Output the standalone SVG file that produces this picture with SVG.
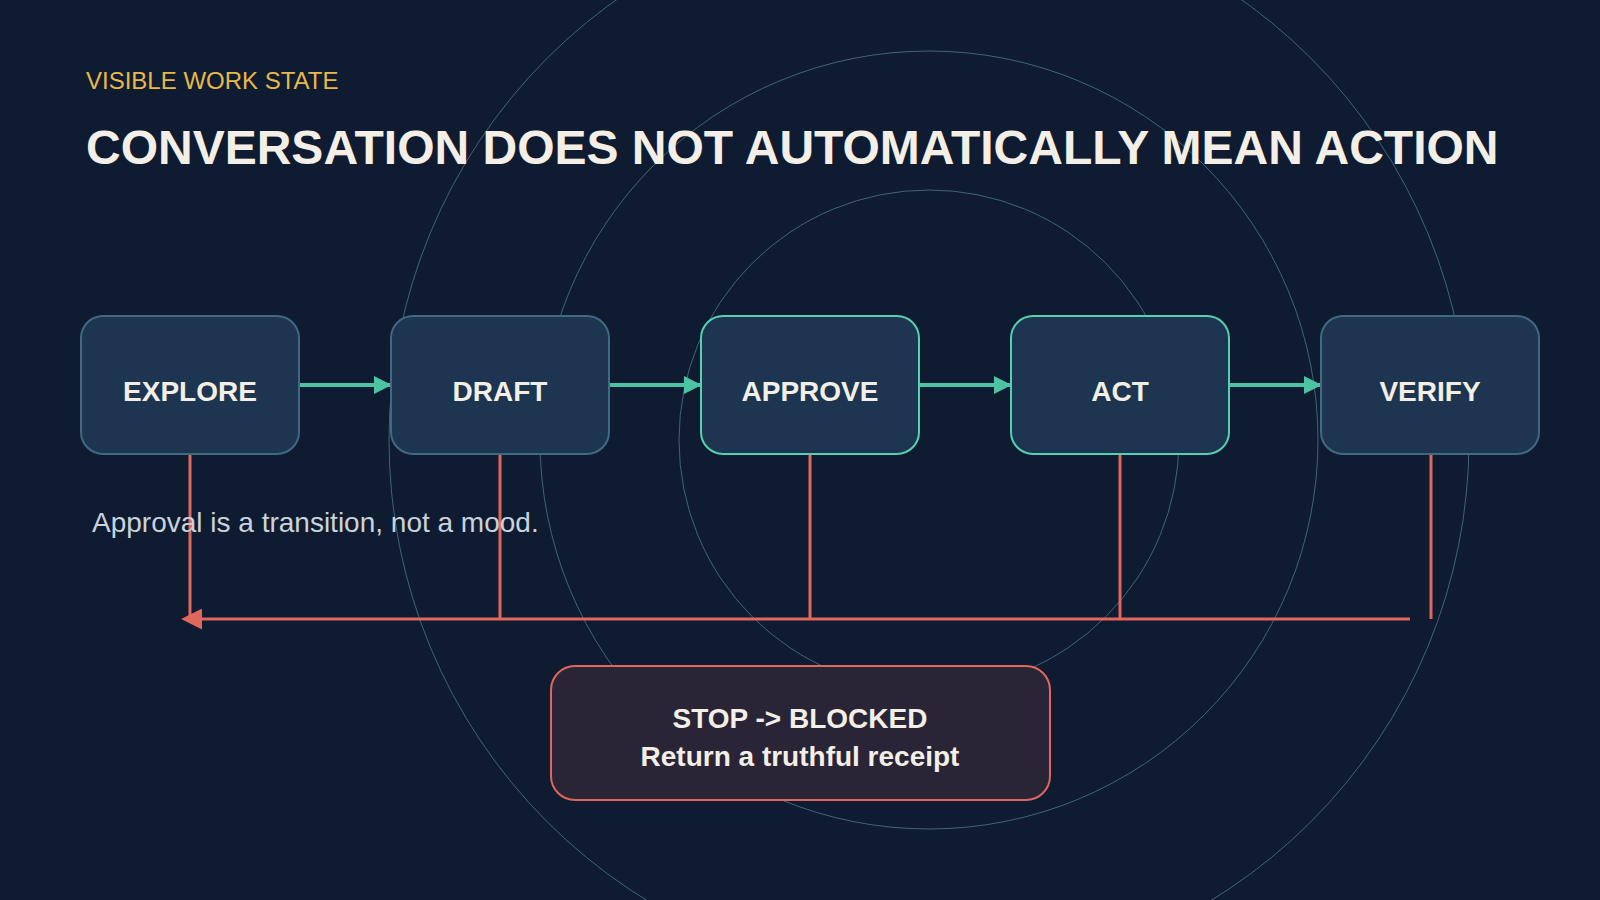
<svg xmlns="http://www.w3.org/2000/svg" width="1600" height="900" viewBox="0 0 1600 900">
<style>
.ring{fill:none;stroke:#3f6478;stroke-width:1}
.box{fill:#1d3550;stroke-width:2}
.muted{stroke:#3f6a80}
.hot{stroke:#55d0b0}
.lbl{font-family:"Liberation Sans",Arial,sans-serif;font-weight:bold;font-size:28px;fill:#f3efe6;text-anchor:middle}
.flow{stroke:#4cc3a2;stroke-width:4;fill:none;marker-end:url(#ta)}
.back{stroke:#e0675c;stroke-width:3;fill:none}
</style>
<defs>
<marker id="ta" viewBox="0 0 10 10" refX="9" refY="5" markerWidth="4.5" markerHeight="4.5" orient="auto" markerUnits="strokeWidth"><path d="M0,0L10,5L0,10z" fill="#4cc3a2"/></marker>
<marker id="ra" viewBox="0 0 10 10" refX="1" refY="5" markerWidth="7" markerHeight="7" orient="auto-start-reverse" markerUnits="strokeWidth"><path d="M0,0L10,5L0,10z" fill="#e0675c"/></marker>
</defs>
<rect width="1600" height="900" fill="#0f1b31"/>
<g id="rings">
<circle class="ring" cx="929" cy="440" r="250"/>
<circle class="ring" cx="929" cy="440" r="389"/>
<circle class="ring" cx="929" cy="440" r="540"/>
</g>
<text x="86" y="89" font-family="Liberation Sans,Arial,sans-serif" font-size="24" fill="#e8b84a">VISIBLE WORK STATE</text>
<text x="86" y="164" font-family="Liberation Sans,Arial,sans-serif" font-weight="bold" font-size="48" fill="#f3efe6">CONVERSATION DOES NOT AUTOMATICALLY MEAN ACTION</text>
<g id="connectors">
<path class="flow" d="M299,385H390"/>
<path class="flow" d="M609,385H700"/>
<path class="flow" d="M919,385H1010"/>
<path class="flow" d="M1229,385H1320"/>
<path class="back" d="M190,454V619"/>
<path class="back" d="M500,454V619"/>
<path class="back" d="M810,454V619"/>
<path class="back" d="M1120,454V619"/>
<path class="back" d="M1431,454V619"/>
<path class="back" d="M1410,619H200" marker-end="url(#ra)"/>
</g>
<g id="explore"><rect class="box muted" x="81" y="316" width="218" height="138" rx="22"/><text class="lbl" x="190" y="401">EXPLORE</text></g>
<g id="draft"><rect class="box muted" x="391" y="316" width="218" height="138" rx="22"/><text class="lbl" x="500" y="401">DRAFT</text></g>
<g id="approve"><rect class="box hot" x="701" y="316" width="218" height="138" rx="22"/><text class="lbl" x="810" y="401">APPROVE</text></g>
<g id="act"><rect class="box hot" x="1011" y="316" width="218" height="138" rx="22"/><text class="lbl" x="1120" y="401">ACT</text></g>
<g id="verify"><rect class="box muted" x="1321" y="316" width="218" height="138" rx="22"/><text class="lbl" x="1430" y="401">VERIFY</text></g>
<text x="92" y="532" font-family="Liberation Sans,Arial,sans-serif" font-size="28" fill="#c9d3dc">Approval is a transition, not a mood.</text>
<g id="stop"><rect x="551" y="666" width="499" height="134" rx="24" fill="#2a2536" stroke="#e0675c" stroke-width="2"/>
<text class="lbl" x="800" y="728" font-size="30">STOP -&gt; BLOCKED</text>
<text class="lbl" x="800" y="766">Return a truthful receipt</text></g>
</svg>
